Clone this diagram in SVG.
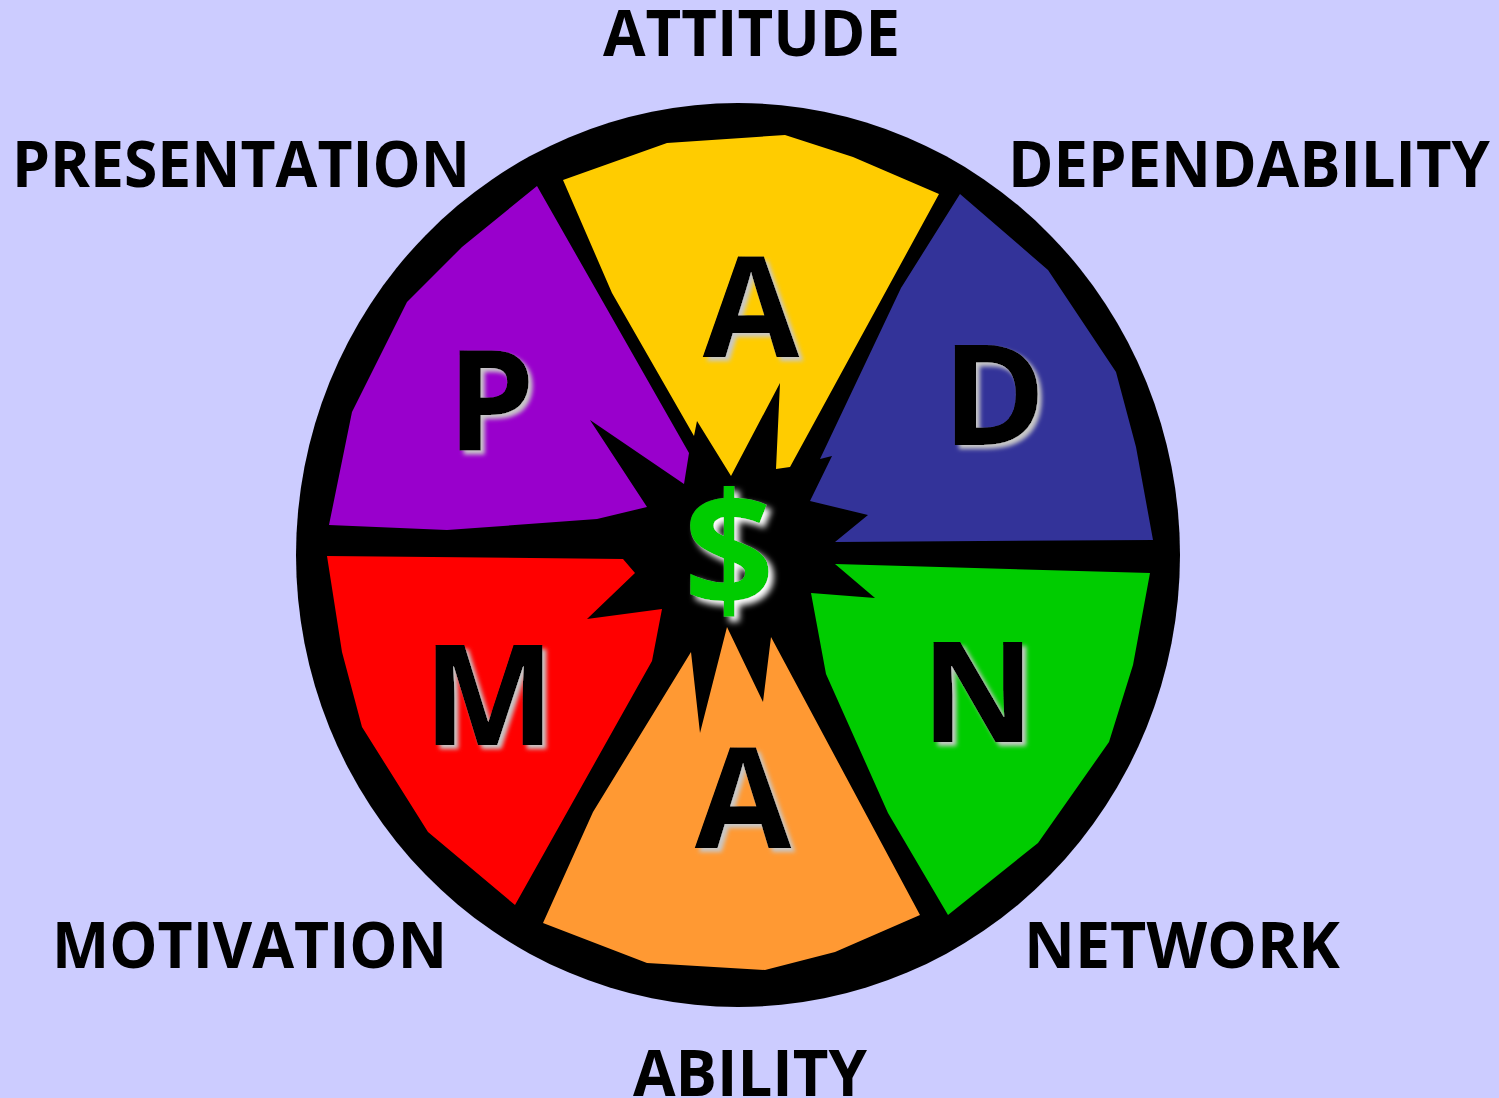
<svg xmlns="http://www.w3.org/2000/svg" width="1499" height="1098" viewBox="0 0 1499 1098">
<style>
.lbl{font-family:"Open Sans","Liberation Sans",sans-serif;font-weight:bold;font-size:64px;fill:#000}
.big{font-family:"Open Sans","Liberation Sans",sans-serif;font-weight:bold;font-size:140px;fill:#000;text-anchor:middle;filter:url(#sh)}
</style>
<defs>
<filter id="sh" x="-20%" y="-20%" width="150%" height="150%">
<feGaussianBlur in="SourceAlpha" stdDeviation="2"/>
<feOffset dx="4" dy="4" result="b"/>
<feFlood flood-color="#c8c8c8"/>
<feComposite in2="b" operator="in" result="s"/>
<feMerge><feMergeNode in="s"/><feMergeNode in="SourceGraphic"/></feMerge>
</filter>
<filter id="glow" x="-30%" y="-30%" width="160%" height="160%">
<feGaussianBlur in="SourceAlpha" stdDeviation="3"/>
<feOffset dx="5" dy="5" result="b"/>
<feFlood flood-color="#ffffff"/>
<feComposite in2="b" operator="in" result="s"/>
<feMerge><feMergeNode in="s"/><feMergeNode in="SourceGraphic"/></feMerge>
</filter>
</defs>
<rect width="1499" height="1098" fill="#CCCCFF"/>
<g id="wheel">
<ellipse cx="738" cy="555" rx="442" ry="452" fill="#000"/>
</g>
<g id="node-attitude">
<polygon fill="#FFCC00" points="563,180 667,143 785,135 853,157 939,194 790,467 776,469 780,383 731,476 697,421 694,436 612,293"/>
<text class="big" x="751" y="357">A</text>
</g>
<g id="node-dependability">
<polygon fill="#333399" points="960,194 1048,270 1116,372 1136,447 1153,540 835,542 868,515 810,501 832,456 820,459 901,288"/>
<text class="big" x="994" y="445">D</text>
</g>
<g id="node-network">
<polygon fill="#00CC00" points="835,564 1150,573 1133,665 1109,742 1038,843 948,915 888,813 826,674 811,593 875,598"/>
<text class="big" x="978" y="742">N</text>
</g>
<g id="node-ability">
<polygon fill="#FF9933" points="543,923 593,812 691,652 700,733 727,627 763,702 771,637 920,915 835,952 765,970 647,963"/>
<text class="big" x="743" y="848">A</text>
</g>
<g id="node-motivation">
<polygon fill="#FF0000" points="327,556 623,559 635,573 587,619 662,609 652,661 515,905 428,832 362,727 342,652"/>
<text class="big" x="489" y="745">M</text>
</g>
<g id="node-presentation">
<polygon fill="#9900CC" points="537,186 462,247 407,302 352,412 329,525 447,530 597,519 647,507 590,420 684,484 689,453"/>
<text class="big" x="491" y="451">P</text>
</g>
<g id="node-center">
<text x="729" y="608" font-family="'Open Sans','Liberation Sans',sans-serif" font-weight="bold" font-size="160" fill="#00CC00" text-anchor="middle" filter="url(#glow)">$</text>
</g>
<g id="labels">
<text class="lbl" x="603" y="56" textLength="297" lengthAdjust="spacingAndGlyphs">ATTITUDE</text>
<text class="lbl" x="12" y="187" textLength="458" lengthAdjust="spacingAndGlyphs">PRESENTATION</text>
<text class="lbl" x="1008" y="187" textLength="482" lengthAdjust="spacingAndGlyphs">DEPENDABILITY</text>
<text class="lbl" x="52" y="968" textLength="395" lengthAdjust="spacingAndGlyphs">MOTIVATION</text>
<text class="lbl" x="1024" y="968" textLength="316" lengthAdjust="spacingAndGlyphs">NETWORK</text>
<text class="lbl" x="633" y="1096" textLength="234" lengthAdjust="spacingAndGlyphs">ABILITY</text>
</g>
<g id="connectors"/>
</svg>
